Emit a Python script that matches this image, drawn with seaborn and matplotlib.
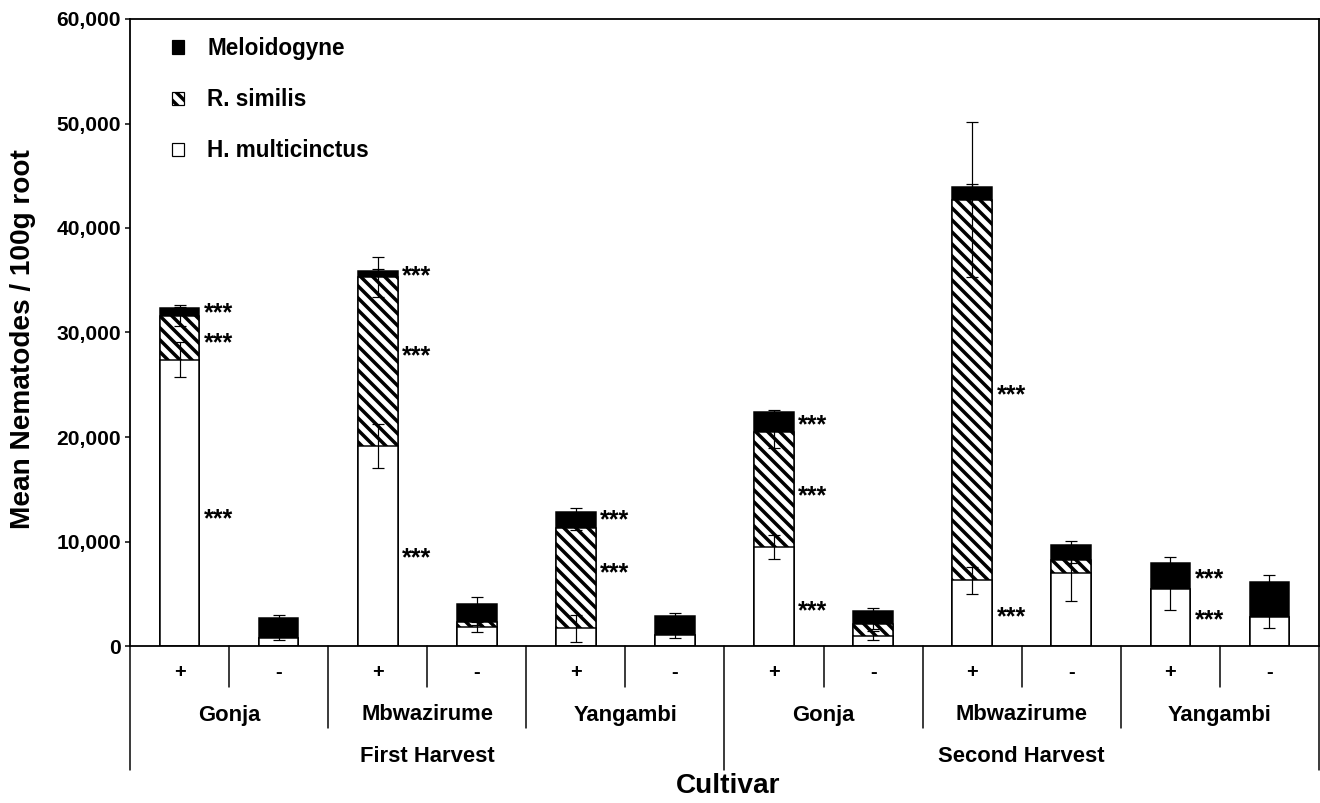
import numpy as np
import pandas as pd
import matplotlib
matplotlib.use("Agg")
import matplotlib.pyplot as plt
import matplotlib.transforms as mtransforms
import seaborn as sns
from matplotlib.patches import Patch
from matplotlib.ticker import FuncFormatter, MultipleLocator

# data (nematodes / 100 g root)
harvests = ["First Harvest", "Second Harvest"]
cultivars = ["Gonja", "Mbwazirume", "Yangambi"]
treatments = ["+", "-"]

h_multicinctus = [27400, 750, 19100, 1800, 1700, 1050, 9500, 1000, 6300, 7000, 5450, 2800]
r_similis = [4200, 0, 16200, 500, 9600, 0, 11000, 1100, 36400, 1200, 0, 0]
meloidogyne = [700, 1950, 600, 1700, 1500, 1850, 1900, 1250, 1200, 1450, 2500, 3300]

h_err = [1700, 200, 2100, 500, 1300, 250, 1150, 400, 1300, 2700, 2000, 1100]
r_err = [1000, 0, 1900, 300, 200, 0, 1600, 500, 7400, 300, 0, 0]
m_err = [150, 300, 200, 700, 400, 300, 200, 300, 300, 400, 550, 700]

# significance stars: (bar index, y value)
star_bar = [0, 0, 0, 2, 2, 2, 4, 4, 6, 6, 6, 8, 8, 10, 10]
star_y = [31800, 29000, 12100, 35400, 27700, 8400, 12000, 7000,
          21100, 14300, 3350, 24000, 2700, 6400, 2500]

labels = []
for hv in harvests:
    for cv in cultivars:
        for tr in treatments:
            labels.append(hv + "|" + cv + "|" + tr)

df = pd.DataFrame({
    "bar": labels,
    "h": h_multicinctus,
    "r": r_similis,
    "m": meloidogyne,
})
df["hr"] = df["h"] + df["r"]
df["total"] = df["hr"] + df["m"]

sns.set_style("ticks")
plt.rcParams["font.family"] = ["Liberation Sans", "DejaVu Sans"]
plt.rcParams["font.weight"] = "bold"
plt.rcParams["hatch.linewidth"] = 3.5
plt.rcParams["hatch.color"] = "black"
for k in ["text.color", "axes.labelcolor", "xtick.color", "ytick.color", "axes.edgecolor"]:
    plt.rcParams[k] = "black"

W, H = 1320, 803
fig = plt.figure(figsize=(W / 72, H / 72), dpi=72)
ax = fig.add_axes([130 / W, 1 - 646 / H, 1189 / W, 627 / H])

# stacked bars drawn back to front
sns.barplot(data=df, x="bar", y="total", order=labels, color="black", saturation=1,
            edgecolor="black", linewidth=1.5, width=0.4, errorbar=None, ax=ax)
sns.barplot(data=df, x="bar", y="hr", order=labels, color="white", saturation=1,
            edgecolor="black", linewidth=1.5, width=0.4, errorbar=None, hatch="\\\\", ax=ax)
sns.barplot(data=df, x="bar", y="h", order=labels, color="white", saturation=1,
            edgecolor="black", linewidth=1.5, width=0.4, errorbar=None, ax=ax)

xs = np.arange(len(labels))
for tops, errs in [(df["h"], h_err), (df["hr"], r_err), (df["total"], m_err)]:
    errs = np.array(errs)
    keep = errs > 0
    ax.errorbar(xs[keep], np.array(tops)[keep], yerr=errs[keep], fmt="none",
                ecolor="black", elinewidth=1.2, capsize=6, capthick=1.2, zorder=5)

for b, y in zip(star_bar, star_y):
    ax.text(b + 0.245, y, "***", ha="left", va="center", fontsize=25,
            fontweight="bold", color="black")

ax.set_xlim(-0.5, len(labels) - 0.5)
ax.set_ylim(0, 60000)
ax.yaxis.set_major_locator(MultipleLocator(10000))
ax.yaxis.set_major_formatter(FuncFormatter(lambda v, p: f"{int(v):,}"))
ax.tick_params(axis="y", direction="out", length=5, width=1.5, labelsize=21, pad=4)
ax.tick_params(axis="x", length=0, labelbottom=False)
for lab in ax.get_yticklabels():
    lab.set_fontweight("bold")
ax.set_xlabel("")
ax.set_ylabel("")
for s in ax.spines.values():
    s.set_linewidth(1.8)
    s.set_color("black")
    s.set_visible(True)

# hierarchical category axis below the plot
trans = mtransforms.blended_transform_factory(ax.transData, ax.transAxes)
ah = 627.0


def drop(px):
    return -px / ah


for i, tr in enumerate(treatments * 6):
    ax.text(i, drop(26), tr, transform=trans, ha="center", va="center", fontsize=20)
for k in range(6):
    ax.plot([2 * k + 0.5] * 2, [0, drop(41)], transform=trans, color="black",
            lw=1.5, clip_on=False)
for k, cv in enumerate(cultivars * 2):
    ax.text(2 * k + 0.5, drop(69), cv, transform=trans, ha="center", va="center",
            fontsize=22)
for xv in [1.5, 3.5, 7.5, 9.5]:
    ax.plot([xv] * 2, [0, drop(82)], transform=trans, color="black",
            lw=1.5, clip_on=False)
for k, hv in enumerate(harvests):
    ax.text(6 * k + 2.5, drop(111), hv, transform=trans, ha="center", va="center",
            fontsize=22)
for xv in [-0.5, 5.5, 11.5]:
    ax.plot([xv] * 2, [0, drop(124)], transform=trans, color="black",
            lw=1.5, clip_on=False)

fig.text(728 / W, 1 - 786 / H, "Cultivar", ha="center", va="center", fontsize=28)
fig.text(23 / W, 1 - 339 / H, "Mean Nematodes / 100g root", rotation=90,
         ha="center", va="center", fontsize=28)

handles = [
    Patch(facecolor="black", edgecolor="black", linewidth=1.2),
    Patch(facecolor="white", edgecolor="black", linewidth=1.2, hatch="\\\\"),
    Patch(facecolor="white", edgecolor="black", linewidth=1.2),
]
ax.legend(handles, ["Meloidogyne", "R. similis", "H. multicinctus"],
          loc="upper left", bbox_to_anchor=(42 / 1189, 1 - 18 / 627), frameon=False,
          fontsize=22.5, handlelength=0.52, handleheight=0.52, handletextpad=1.05,
          labelspacing=1.25, borderpad=0, borderaxespad=0)

fig.savefig("out.png", dpi=72)
